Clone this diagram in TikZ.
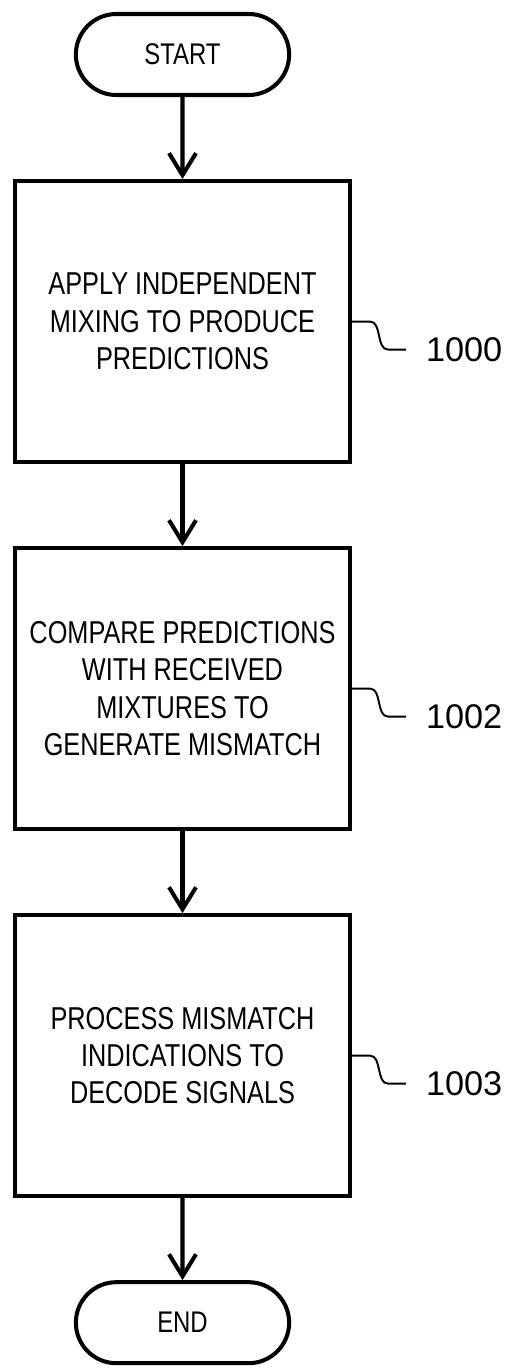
\documentclass[tikz,border=0pt]{standalone}
\usepackage{fontspec}
\setmainfont{Liberation Sans}[FakeStretch=0.8]
\newfontfamily\tagfont{Liberation Sans}
\usepackage{tikz}
\usetikzlibrary{arrows.meta, positioning, shapes.misc}

\tikzset{
  term/.style={rounded rectangle, draw, minimum width=4.5cm, minimum height=1.62cm,
    font=\fontsize{17pt}{20pt}\selectfont},
  proc/.style={rectangle, draw, minimum width=6.7cm, minimum height=5.62cm, align=center,
    font=\fontsize{18pt}{21.3pt}\selectfont},
  tag/.style={anchor=west, inner sep=0.1cm, font=\tagfont\fontsize{19.5pt}{22pt}\selectfont},
  lead/.style={line width=1.1pt, shorten >=0.26cm,
    to path={-- ++(0.36,0) .. controls +(0.24,0) and +(-0.24,0) .. ++(0.36,-0.56) -- (\tikztotarget)}}
}

\begin{document}
\begin{tikzpicture}[>={Straight Barb[length=4.4mm,width=5.4mm]}, line width=2.3pt, node distance=1.64cm]

    \useasboundingbox (0,0) rectangle (10.14,-27.38);

    \node[term] (start) at (3.65,-1.09) {START};
    \node[proc] (mix) [below=of start] {APPLY INDEPENDENT\\MIXING TO PRODUCE\\PREDICTIONS};
    \node[proc] (cmp) [below=of mix] {COMPARE PREDICTIONS\\WITH RECEIVED\\MIXTURES TO\\GENERATE MISMATCH};
    \node[proc] (dec) [below=of cmp] {PROCESS MISMATCH\\INDICATIONS TO\\DECODE SIGNALS};
    \node[term] (end) [below=of dec] {END};

    % reference numerals
    \node[tag] (t1000) at ([shift={(1.34,-0.56)}]mix.east) {1000};
    \node[tag] (t1002) at ([shift={(1.34,-0.56)}]cmp.east) {1002};
    \node[tag] (t1003) at ([shift={(1.34,-0.56)}]dec.east) {1003};

    \path[->]
    (start) edge (mix)
    (mix) edge (cmp)
    (cmp) edge (dec)
    (dec) edge (end)
    ;

    \draw[lead] (mix.east) to (t1000.west);
    \draw[lead] (cmp.east) to (t1002.west);
    \draw[lead] (dec.east) to (t1003.west);
  \end{tikzpicture}
\end{document}
